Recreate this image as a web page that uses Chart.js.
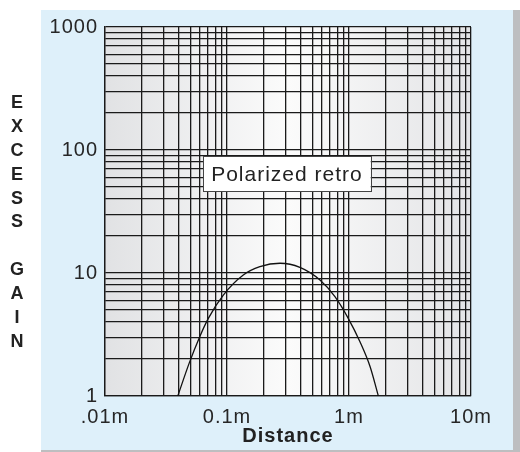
<!DOCTYPE html>
<html>
<head>
<meta charset="utf-8">
<script src="https://cdn.jsdelivr.net/npm/chart.js@4/dist/chart.umd.min.js"></script>
<style>
  html, body { margin: 0; padding: 0; background: #fff; }
  #wrap { width: 520px; height: 452px; }
</style>
</head>
<body>
<div id="wrap"><canvas id="chart" width="520" height="452"></canvas></div>
<script>
// curve (distance in m, excess gain)
const distances = [0.0395, 0.049, 0.0593, 0.0703, 0.0933, 0.136, 0.186, 0.272, 0.396, 0.578, 0.767, 0.986, 1.23, 1.49, 1.74];
const gains = [1, 1.85, 2.98, 4.28, 6.62, 9.63, 11.25, 12.0, 11.1, 8.77, 6.42, 4.28, 2.76, 1.73, 1];

const xDecades = [0.01, 0.1, 1, 10];
const xDecadeLabels = [".01m", "0.1m", "1m", "10m"];
const yDecades = [1, 10, 100, 1000];
const yDecadeLabels = ["1", "10", "100", "1000"];

const xTitle = "Distance";
const yTitle = "EXCESS GAIN";
const curveLabel = "Polarized retro";
const curveLabelAt = { x: 0.31, y: 64 };

const FONT = "'Liberation Sans', Arial, sans-serif";
const LINE = "#1a1a1a";

// 1..9 per decade, for the grid
function logGrid(decades) {
  const out = [];
  for (let i = 0; i < decades.length - 1; i++) {
    for (let k = 1; k < 10; k++) out.push(Number((decades[i] * k).toPrecision(6)));
  }
  out.push(decades[decades.length - 1]);
  return out;
}
const xGrid = logGrid(xDecades);
const yGrid = logGrid(yDecades);

const backdrop = {
  id: "backdrop",
  beforeDraw(chart) {
    const { ctx, chartArea: a } = chart;
    ctx.save();
    ctx.fillStyle = "#def0fa";
    ctx.fillRect(41, 10, 472, 440);
    ctx.fillStyle = "#bdbec0";
    ctx.fillRect(513, 10, 7, 442);
    ctx.fillRect(41, 450, 479, 2);
    const g = ctx.createLinearGradient(a.left, 0, a.right, 0);
    g.addColorStop(0, "#e1e2e4");
    g.addColorStop(0.5, "#fbfbfb");
    g.addColorStop(1, "#e3e4e6");
    ctx.fillStyle = g;
    ctx.fillRect(a.left, a.top, a.right - a.left, a.bottom - a.top);
    ctx.restore();
    ctx.letterSpacing = "1px";
  }
};

const boxLabel = {
  id: "boxLabel",
  afterDatasetsDraw(chart) {
    const { ctx, scales } = chart;
    const cx = scales.x.getPixelForValue(curveLabelAt.x);
    const cy = scales.y.getPixelForValue(curveLabelAt.y);
    ctx.save();
    ctx.letterSpacing = "1px";
    ctx.font = "21px " + FONT;
    const w = ctx.measureText(curveLabel).width + 16;
    const h = 35;
    ctx.fillStyle = "#fff";
    ctx.fillRect(cx - w / 2, cy - h / 2, w, h);
    ctx.strokeStyle = "#444";
    ctx.lineWidth = 1;
    ctx.strokeRect(Math.round(cx - w / 2) + 0.5, Math.round(cy - h / 2) + 0.5, Math.round(w), h);
    ctx.fillStyle = "#222";
    ctx.textAlign = "center";
    ctx.textBaseline = "middle";
    ctx.fillText(curveLabel, cx, cy + 1);
    ctx.restore();
  }
};

const stackedTitle = {
  id: "stackedTitle",
  afterDraw(chart) {
    const { ctx } = chart;
    ctx.save();
    ctx.letterSpacing = "0px";
    ctx.font = "bold 18px " + FONT;
    ctx.fillStyle = "#222";
    ctx.textAlign = "center";
    ctx.textBaseline = "middle";
    yTitle.split("").forEach((ch, i) => {
      if (ch !== " ") ctx.fillText(ch, 17, 103 + i * 23.9);
    });
    ctx.restore();
  }
};

new Chart(document.getElementById("chart"), {
  type: "line",
  data: {
    datasets: [{
      data: distances.map((d, i) => ({ x: d, y: gains[i] })),
      borderColor: "#111",
      borderWidth: 1.3,
      pointRadius: 0,
      fill: false,
      cubicInterpolationMode: "monotone"
    }]
  },
  options: {
    responsive: false,
    animation: false,
    devicePixelRatio: 1,
    layout: { padding: { top: 27, right: 49, left: 0, bottom: 0 } },
    plugins: { legend: { display: false }, tooltip: { enabled: false } },
    scales: {
      x: {
        type: "logarithmic",
        min: xDecades[0],
        max: xDecades[xDecades.length - 1],
        afterBuildTicks: s => { s.ticks = xGrid.map(v => ({ value: v })); },
        afterFit: s => { s.height = 56; },
        grid: { color: LINE, lineWidth: 1.3, drawTicks: false },
        border: { color: LINE, width: 1.3 },
        ticks: {
          autoSkip: false,
          maxRotation: 0,
          padding: 9,
          color: "#262626",
          font: { family: FONT, size: 20 },
          callback: v => {
            const i = xDecades.indexOf(v);
            return i >= 0 ? xDecadeLabels[i] : "";
          }
        },
        title: {
          display: true,
          text: xTitle,
          color: "#222",
          font: { family: FONT, size: 20, weight: "bold" },
          padding: { top: 0, bottom: 4 }
        }
      },
      y: {
        type: "logarithmic",
        min: yDecades[0],
        max: yDecades[yDecades.length - 1],
        afterBuildTicks: s => { s.ticks = yGrid.map(v => ({ value: v })); },
        afterFit: s => { s.width = 105; },
        grid: { color: LINE, lineWidth: 1.3, drawTicks: false },
        border: { color: LINE, width: 1.3 },
        ticks: {
          autoSkip: false,
          padding: 7,
          color: "#262626",
          font: { family: FONT, size: 20 },
          callback: v => {
            const i = yDecades.indexOf(v);
            return i >= 0 ? yDecadeLabels[i] : "";
          }
        }
      }
    }
  },
  plugins: [backdrop, boxLabel, stackedTitle]
});
</script>
</body>
</html>
